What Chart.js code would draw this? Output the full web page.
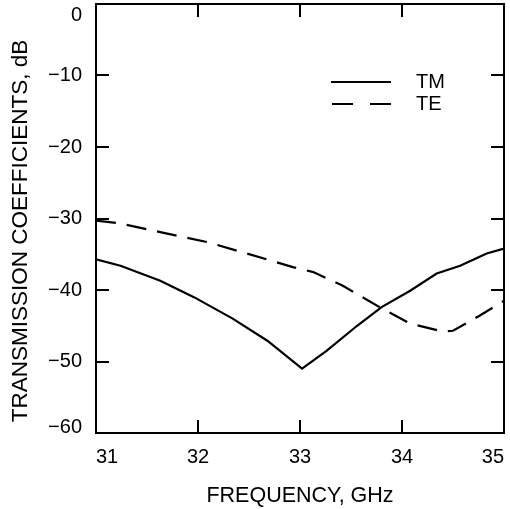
<!DOCTYPE html>
<html>
<head>
<meta charset="utf-8">
<script src="https://cdn.jsdelivr.net/npm/chart.js@4"></script>
<style>
  html, body { margin: 0; padding: 0; background: #fff; }
  canvas { display: block; }
</style>
</head>
<body>
<canvas id="grafica" width="510" height="509"></canvas>
<script>
// datos
const freqTM = [31.0, 31.24, 31.63, 31.96, 32.34, 32.68, 33.02, 33.26, 33.56, 33.80, 34.08, 34.34, 34.57, 34.83, 35.0];
const valTM  = [-35.7, -36.6, -38.7, -41.0, -44.0, -47.1, -51.0, -48.5, -45.0, -42.4, -40.1, -37.7, -36.6, -34.9, -34.2];

const freqTE = [31.0, 31.24, 31.63, 32.09, 32.48, 32.93, 33.13, 33.42, 33.78, 34.08, 34.40, 34.50, 34.76, 35.0];
const valTE  = [-30.3, -30.7, -31.9, -33.3, -34.9, -36.8, -37.5, -39.4, -42.4, -44.7, -45.8, -45.7, -43.6, -41.5];

const xTicks = [31, 32, 33, 34, 35];
const yTicks = [0, -10, -20, -30, -40, -50, -60];
const seriesNames = ['TM', 'TE'];

const fuente = '"Liberation Sans", Arial, Helvetica, sans-serif';

function puntos(xs, ys) {
    return xs.map((x, i) => ({ x: x, y: ys[i] }));
}

// marcas hacia dentro, marco, etiquetas del eje y, titulos y leyenda
const extras = {
    id: 'extras',
    afterDraw(chart) {
        const ctx = chart.ctx;
        const a = chart.chartArea;
        const sx = chart.scales.x;
        const sy = chart.scales.y;
        const largo = 13;
        ctx.save();
        ctx.strokeStyle = '#000';
        ctx.lineWidth = 2;
        ctx.strokeRect(a.left, a.top, a.right - a.left, a.bottom - a.top);

        ctx.beginPath();
        xTicks.forEach(v => {
            if (v === xTicks[0] || v === xTicks[xTicks.length - 1]) return;
            const px = Math.round(sx.getPixelForValue(v));
            ctx.moveTo(px, a.bottom); ctx.lineTo(px, a.bottom - largo);
            ctx.moveTo(px, a.top); ctx.lineTo(px, a.top + largo);
        });
        yTicks.forEach(v => {
            if (v === 0 || v === -60) return;
            const py = Math.round(sy.getPixelForValue(v));
            ctx.moveTo(a.left, py); ctx.lineTo(a.left + largo, py);
            ctx.moveTo(a.right, py); ctx.lineTo(a.right - largo, py);
        });
        ctx.stroke();

        // etiquetas y
        ctx.fillStyle = '#000';
        ctx.font = '20px ' + fuente;
        ctx.textAlign = 'right';
        ctx.textBaseline = 'middle';
        yTicks.forEach(v => {
            let py = sy.getPixelForValue(v);
            py = Math.min(Math.max(py, a.top + 11), a.bottom - 6);
            const txt = v === 0 ? '0' : '\u2212' + Math.abs(v);
            ctx.fillText(txt, a.left - 14, py);
        });

        // titulos
        ctx.font = '21.5px ' + fuente;
        ctx.textAlign = 'center';
        ctx.fillText('FREQUENCY, GHz', 300, 496);
        ctx.save();
        ctx.translate(21, 231);
        ctx.rotate(-Math.PI / 2);
        ctx.font = '22.5px ' + fuente;
        ctx.fillText('TRANSMISSION COEFFICIENTS, dB', 0, 0);
        ctx.restore();

        // leyenda
        ctx.lineWidth = 2;
        ctx.beginPath();
        ctx.moveTo(331, 82); ctx.lineTo(391, 82);
        ctx.stroke();
        ctx.setLineDash([21, 17]);
        ctx.beginPath();
        ctx.moveTo(332, 104); ctx.lineTo(391, 104);
        ctx.stroke();
        ctx.setLineDash([]);
        ctx.font = '20px ' + fuente;
        ctx.textAlign = 'left';
        ctx.fillText(seriesNames[0], 416, 82);
        ctx.fillText(seriesNames[1], 416, 104);
        ctx.restore();
    }
};

const config = {
    type: 'line',
    data: {
        datasets: [{
            label: seriesNames[0],
            data: puntos(freqTM, valTM),
            borderColor: '#000',
            borderWidth: 2.2,
            pointRadius: 0,
            tension: 0,
            fill: false
        }, {
            label: seriesNames[1],
            data: puntos(freqTE, valTE),
            borderColor: '#000',
            borderWidth: 2.2,
            borderDash: [20, 11],
            pointRadius: 0,
            tension: 0,
            fill: false
        }]
    },
    options: {
        responsive: false,
        animation: false,
        devicePixelRatio: 1,
        layout: { padding: { top: 4, right: 6, left: 0, bottom: 0 } },
        plugins: {
            legend: { display: false },
            tooltip: { enabled: false }
        },
        scales: {
            x: {
                type: 'linear',
                min: 31,
                max: 35,
                afterBuildTicks: s => { s.ticks = xTicks.map(v => ({ value: v })); },
                afterFit: s => { s.height = 76; s.paddingLeft = 0; s.paddingRight = 0; },
                grid: { display: false, drawTicks: false },
                border: { display: true, color: '#000', width: 2 },
                ticks: {
                    align: 'inner',
                    color: '#000',
                    padding: 12,
                    font: { size: 20, family: fuente }
                }
            },
            y: {
                type: 'linear',
                min: -60,
                max: 0,
                afterBuildTicks: s => { s.ticks = yTicks.map(v => ({ value: v })); },
                afterFit: s => { s.width = 96; s.paddingTop = 0; s.paddingBottom = 0; },
                grid: { display: false, drawTicks: false },
                border: { display: true, color: '#000', width: 2 },
                ticks: { display: false }
            }
        }
    },
    plugins: [extras]
};

var grafica = new Chart(document.getElementById('grafica'), config);
</script>
</body>
</html>
